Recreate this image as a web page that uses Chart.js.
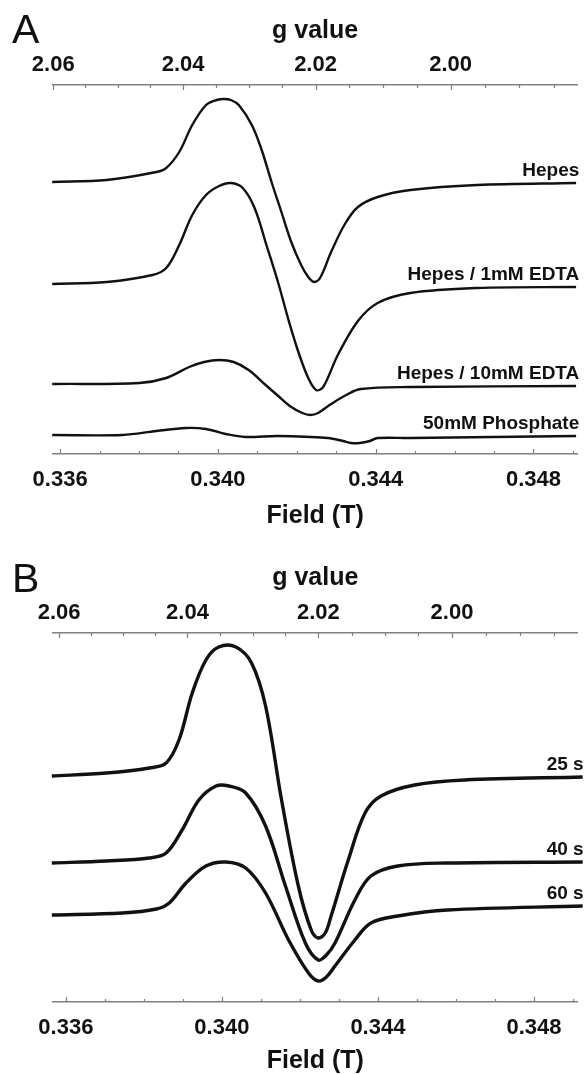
<!DOCTYPE html>
<html>
<head>
<meta charset="utf-8">
<title>EPR spectra</title>
<script src="https://cdn.jsdelivr.net/npm/chart.js@4.4.1/dist/chart.umd.min.js"></script>
<style>
    html, body { margin: 0; padding: 0; background: #fff; overflow: hidden; }
    canvas { display: block; }
</style>
</head>
<body>
<canvas id="chartA" width="586" height="548"></canvas>
<canvas id="chartB" width="586" height="548"></canvas>
<script>
// g = gFactor / B  (X-band, about 9.68 GHz)
const gFactor = 0.6918;

// axis ticks
const fieldTickLabels = ['0.336', '0.340', '0.344', '0.348'];
const fieldMinorStep = 0.001;
const gTickLabels = ['2.06', '2.04', '2.02', '2.00'];
const gMinorStep = 0.005;

// Panel A - buffers (field in T, signal in arbitrary units incl. vertical offset)
const fieldHepes = [0.33580, 0.33718, 0.33844, 0.33869, 0.33902, 0.33935, 0.33970, 0.33997, 0.34015, 0.34033, 0.34053, 0.34086, 0.34111, 0.34136, 0.34161, 0.34186, 0.34211, 0.34229, 0.34244, 0.34259, 0.34287, 0.34322, 0.34355, 0.34405, 0.34488, 0.34657, 0.34908];
const hepes      = [272, 274, 282, 286, 302, 329, 349, 354, 355, 354, 349, 329, 304, 272, 242, 212, 189, 177, 172, 176, 202, 230, 247, 257, 264, 269, 271];

const fieldEdta1 = [0.33580, 0.33718, 0.33834, 0.33869, 0.33902, 0.33935, 0.33970, 0.34003, 0.34033, 0.34063, 0.34093, 0.34123, 0.34153, 0.34179, 0.34204, 0.34229, 0.34249, 0.34267, 0.34304, 0.34355, 0.34405, 0.34488, 0.34657, 0.34908];
const edta1      = [170, 172, 179, 186, 209, 239, 259, 268, 271, 266, 246, 209, 171, 134, 102, 76, 64, 67, 99, 133, 151, 161, 166, 167];

const fieldEdta10 = [0.33580, 0.33801, 0.33869, 0.33927, 0.33965, 0.34003, 0.34040, 0.34078, 0.34121, 0.34153, 0.34186, 0.34214, 0.34234, 0.34254, 0.34287, 0.34325, 0.34362, 0.34488, 0.34908];
const edta10      = [70, 71, 76, 87, 92, 94, 92, 84, 69, 58, 47, 41, 39, 41, 50, 59, 65, 67, 68];

const fieldPhosphate = [0.33580, 0.33758, 0.33844, 0.33919, 0.33970, 0.34020, 0.34070, 0.34153, 0.34279, 0.34317, 0.34337, 0.34360, 0.34385, 0.34405, 0.34488, 0.34908];
const phosphate      = [19, 19, 23, 26, 25, 20, 17, 18, 16, 13, 11, 11, 13, 16, 16, 18];

// Panel B - time course
const field25 = [0.33564, 0.33704, 0.33814, 0.33857, 0.33890, 0.33924, 0.33959, 0.33992, 0.34036, 0.34076, 0.34112, 0.34153, 0.34196, 0.34229, 0.34247, 0.34265, 0.34280, 0.34324, 0.34367, 0.34408, 0.34494, 0.34622, 0.34925];
const t25     = [226, 229, 234, 239, 262, 309, 342, 355, 355, 339, 296, 202, 116, 72, 64, 69, 86, 142, 189, 206, 217, 222, 225];

const field40 = [0.33564, 0.33704, 0.33814, 0.33857, 0.33898, 0.33941, 0.33985, 0.34018, 0.34061, 0.34112, 0.34163, 0.34214, 0.34247, 0.34268, 0.34290, 0.34341, 0.34382, 0.34451, 0.34578, 0.34925];
const t40     = [139, 141, 144, 149, 172, 202, 216, 216, 209, 176, 116, 59, 42, 47, 59, 102, 126, 136, 139, 140];

const field60 = [0.33564, 0.33745, 0.33832, 0.33865, 0.33908, 0.33959, 0.34010, 0.34061, 0.34112, 0.34171, 0.34222, 0.34247, 0.34268, 0.34290, 0.34341, 0.34382, 0.34451, 0.34578, 0.34925];
const t60     = [87, 89, 93, 99, 119, 136, 140, 134, 109, 62, 29, 21, 25, 36, 62, 79, 86, 92, 96];

const axisGrey = '#808080';
const ink = '#111111';
const fontFamily = '"Liberation Sans", Arial, Helvetica, sans-serif';

function toPoints(xs, ys) {
    return xs.map((x, i) => ({ x: x, y: ys[i] }));
}

function buildFieldTicks(scale) {
    const ticks = [];
    const first = Math.ceil(scale.min / fieldMinorStep - 1e-6);
    const last = Math.floor(scale.max / fieldMinorStep + 1e-6);
    for (let i = first; i <= last; i++) {
        const v = +(i * fieldMinorStep).toFixed(3);
        ticks.push({ value: v, big: fieldTickLabels.includes(v.toFixed(3)) });
    }
    scale.ticks = ticks;
}

function gLabelFor(g) {
    return gTickLabels.find(l => Math.abs(parseFloat(l) - g) < 1e-4);
}

function buildGTicks(scale) {
    const ticks = [];
    const gHigh = gFactor / scale.min;
    const gLow = gFactor / scale.max;
    for (let i = Math.floor(gHigh / gMinorStep + 1e-6); i >= Math.ceil(gLow / gMinorStep - 1e-6); i--) {
        const g = i * gMinorStep;
        ticks.push({ value: gFactor / g, big: !!gLabelFor(g) });
    }
    scale.ticks = ticks;
}

// inward tick marks, trace names and the panel letter
const decorations = {
    id: 'decorations',
    afterDraw(chart, args, opts) {
        const ctx = chart.ctx;
        const area = chart.chartArea;
        ctx.save();
        ctx.strokeStyle = axisGrey;
        ctx.lineWidth = 1.2;
        [['x', area.bottom, -1], ['g', area.top, 1]].forEach(([id, edge, dir]) => {
            const scale = chart.scales[id];
            scale.ticks.forEach(t => {
                const px = Math.round(scale.getPixelForValue(t.value)) + 0.5;
                ctx.beginPath();
                ctx.moveTo(px, edge);
                ctx.lineTo(px, edge + dir * (t.big ? 5 : 3));
                ctx.stroke();
            });
        });

        ctx.fillStyle = ink;
        ctx.font = 'bold 19px ' + fontFamily;
        ctx.textAlign = 'right';
        ctx.textBaseline = 'alphabetic';
        chart.data.datasets.forEach(ds => {
            const end = ds.data[ds.data.length - 1];
            ctx.fillText(ds.label, area.right + opts.labelShift, chart.scales.y.getPixelForValue(end.y) - 7);
        });

        ctx.font = '41px ' + fontFamily;
        ctx.textAlign = 'left';
        ctx.fillText(opts.letter, 12, opts.letterY);
        ctx.restore();
    }
};

function makeChart(id, panel, series) {
    const tickFont = { family: fontFamily, size: 22, weight: 'bold' };
    const titleFont = { family: fontFamily, size: 25, weight: 'bold' };
    return new Chart(document.getElementById(id), {
        type: 'line',
        data: {
            datasets: series.map(s => ({
                label: s.name,
                data: toPoints(s.field, s.values),
                borderColor: ink,
                borderWidth: panel.lineWidth,
                pointRadius: 0,
                fill: false,
                clip: false,
                tension: 0.35
            }))
        },
        options: {
            responsive: false,
            animation: false,
            events: [],
            layout: { padding: { left: 53, right: panel.padRight, top: 0, bottom: 0 } },
            plugins: {
                legend: { display: false },
                tooltip: { enabled: false },
                decorations: { letter: panel.letter, letterY: panel.letterY, labelShift: panel.labelShift }
            },
            scales: {
                x: {
                    type: 'linear',
                    position: 'bottom',
                    min: panel.min,
                    max: panel.max,
                    afterBuildTicks: buildFieldTicks,
                    afterFit: s => { s.height = 94; },
                    grid: { display: false, drawTicks: false },
                    border: { display: true, color: axisGrey, width: 1.5 },
                    ticks: {
                        autoSkip: false,
                        maxRotation: 0,
                        padding: 13,
                        color: ink,
                        font: tickFont,
                        callback: v => {
                            const s = Number(v).toFixed(3);
                            return fieldTickLabels.includes(s) ? s : '';
                        }
                    },
                    title: {
                        display: true,
                        text: 'Field (T)',
                        color: ink,
                        font: titleFont,
                        padding: { top: 0, bottom: panel.titlePadBottom }
                    }
                },
                g: {
                    type: 'linear',
                    position: 'top',
                    min: panel.min,
                    max: panel.max,
                    afterBuildTicks: buildGTicks,
                    afterFit: s => { s.height = 85; },
                    grid: { display: false, drawTicks: false },
                    border: { display: true, color: axisGrey, width: 1.5 },
                    ticks: {
                        autoSkip: false,
                        maxRotation: 0,
                        padding: 7,
                        color: ink,
                        font: tickFont,
                        callback: v => gLabelFor(gFactor / v) || ''
                    },
                    title: {
                        display: true,
                        text: 'g value',
                        color: ink,
                        font: titleFont,
                        padding: { top: panel.titlePadTop, bottom: 0 }
                    }
                },
                y: { display: false, min: 0, max: 369 }
            }
        },
        plugins: [decorations]
    });
}

makeChart('chartA',
    { letter: 'A', letterY: 43, min: 0.33582, max: 0.34911, lineWidth: 2.4, padRight: 5, labelShift: 2, titlePadTop: 16, titlePadBottom: 17 },
    [
        { name: 'Hepes', field: fieldHepes, values: hepes },
        { name: 'Hepes / 1mM EDTA', field: fieldEdta1, values: edta1 },
        { name: 'Hepes / 10mM EDTA', field: fieldEdta10, values: edta10 },
        { name: '50mM Phosphate', field: fieldPhosphate, values: phosphate }
    ]);

makeChart('chartB',
    { letter: 'B', letterY: 44, min: 0.33567, max: 0.34912, lineWidth: 3.4, padRight: 4, labelShift: 6, titlePadTop: 15, titlePadBottom: 20 },
    [
        { name: '25 s', field: field25, values: t25 },
        { name: '40 s', field: field40, values: t40 },
        { name: '60 s', field: field60, values: t60 }
    ]);
</script>
</body>
</html>
